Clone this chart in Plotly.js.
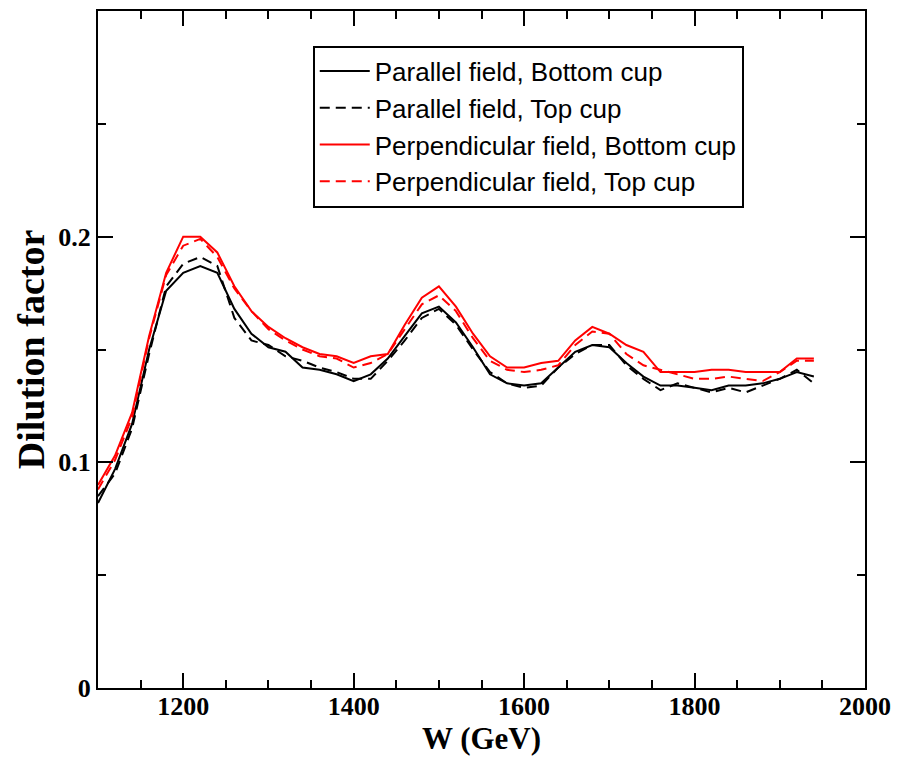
<!DOCTYPE html>
<html>
<head>
<meta charset="utf-8">
<script src="https://cdn.plot.ly/plotly-3.0.1.min.js"></script>
<style>html,body{margin:0;padding:0;background:#fff;}#chart{width:913px;height:758px;}</style>
</head>
<body>
<div id="chart"></div>
<script>
const W = [1100,1120,1140,1160,1180,1200,1220,1240,1260,1280,1300,1320,1340,1360,1380,1400,1420,1440,1460,1480,1500,1520,1540,1560,1580,1600,1620,1640,1660,1680,1700,1720,1740,1760,1780,1800,1820,1840,1860,1880,1900,1920,1940];

const parallelBottom = [0.082,0.097,0.117,0.150,0.176,0.184,0.187,0.184,0.168,0.157,0.151,0.149,0.142,0.141,0.139,0.136,0.139,0.146,0.156,0.166,0.169,0.162,0.151,0.139,0.135,0.134,0.135,0.142,0.149,0.152,0.151,0.144,0.138,0.134,0.134,0.133,0.132,0.134,0.134,0.135,0.137,0.140,0.138];
const parallelTop = [0.085,0.095,0.115,0.148,0.178,0.188,0.191,0.187,0.164,0.154,0.152,0.147,0.145,0.142,0.140,0.137,0.137,0.145,0.154,0.164,0.168,0.161,0.150,0.140,0.135,0.133,0.134,0.142,0.148,0.152,0.152,0.143,0.137,0.132,0.135,0.133,0.131,0.133,0.131,0.134,0.137,0.141,0.135];
const perpBottom = [0.090,0.103,0.122,0.156,0.184,0.200,0.200,0.193,0.178,0.167,0.160,0.155,0.151,0.148,0.147,0.144,0.147,0.148,0.161,0.173,0.178,0.169,0.157,0.147,0.142,0.142,0.144,0.145,0.154,0.160,0.157,0.152,0.149,0.140,0.140,0.140,0.141,0.141,0.140,0.140,0.140,0.146,0.146];
const perpTop = [0.088,0.101,0.120,0.155,0.183,0.196,0.199,0.191,0.177,0.167,0.159,0.154,0.150,0.147,0.146,0.142,0.144,0.148,0.159,0.170,0.174,0.167,0.155,0.145,0.141,0.140,0.141,0.143,0.152,0.158,0.157,0.148,0.143,0.141,0.139,0.137,0.137,0.138,0.137,0.136,0.140,0.145,0.145];

const seriesNames = ["Parallel field, Bottom cup","Parallel field, Top cup","Perpendicular field, Bottom cup","Perpendicular field, Top cup"];
const yTickVals = [0,0.1,0.2,0.3];
const yTickText = ["0","0.1","0.2",""];

const serif = "Liberation Serif, Times New Roman, serif";
const sans = "Liberation Sans, Arial, sans-serif";

function tr(y, name, color, dash){
  return {x: W, y: y, name: name, type: 'scatter', mode: 'lines',
          line: {color: color, width: 2, dash: dash}};
}

const data = [
  tr(parallelBottom, seriesNames[0], '#000000', 'solid'),
  tr(parallelTop, seriesNames[1], '#000000', '10px,6px'),
  tr(perpBottom, seriesNames[2], '#ff0000', 'solid'),
  tr(perpTop, seriesNames[3], '#ff0000', '10px,6px')
];

const axisCommon = {
  showgrid: false, zeroline: false, showline: true, linecolor: '#000', linewidth: 2,
  mirror: 'ticks', ticks: 'inside', ticklen: 15, tickwidth: 2, tickcolor: '#000',
  tickfont: {family: serif, size: 26, color: '#000', weight: 'bold'}
};

const layout = {
  width: 913, height: 758,
  margin: {l: 98, r: 48, t: 11, b: 70},
  paper_bgcolor: '#fff', plot_bgcolor: '#fff',
  showlegend: true,
  legend: {x: 0.280, y: 0.949, xanchor: 'left', yanchor: 'top',
           bordercolor: '#000', borderwidth: 2, bgcolor: '#fff',
           font: {family: sans, size: 26, color: '#000'},
           tracegroupgap: 0, itemwidth: 50},
  xaxis: Object.assign({}, axisCommon, {
    range: [1100, 2000], tick0: 1200, dtick: 200,
    ticklabelstandoff: -6,
    minor: {dtick: 50, tick0: 1100, ticks: 'inside', ticklen: 8, tickwidth: 2, tickcolor: '#000'},
    title: {text: 'W (GeV)', font: {family: serif, size: 31, color: '#000', weight: 'bold'}, standoff: 0}
  }),
  yaxis: Object.assign({}, axisCommon, {
    range: [0, 0.3], tickmode: 'array', tickvals: yTickVals, ticktext: yTickText,
    minor: {tickvals: [0.05,0.15,0.25], ticks: 'inside', ticklen: 8, tickwidth: 2, tickcolor: '#000'},
    title: {text: 'Dilution factor', font: {family: serif, size: 38, color: '#000', weight: 'bold'}, standoff: 2}
  })
};

Plotly.newPlot('chart', data, layout, {displayModeBar: false, staticPlot: true});
</script>
</body>
</html>
